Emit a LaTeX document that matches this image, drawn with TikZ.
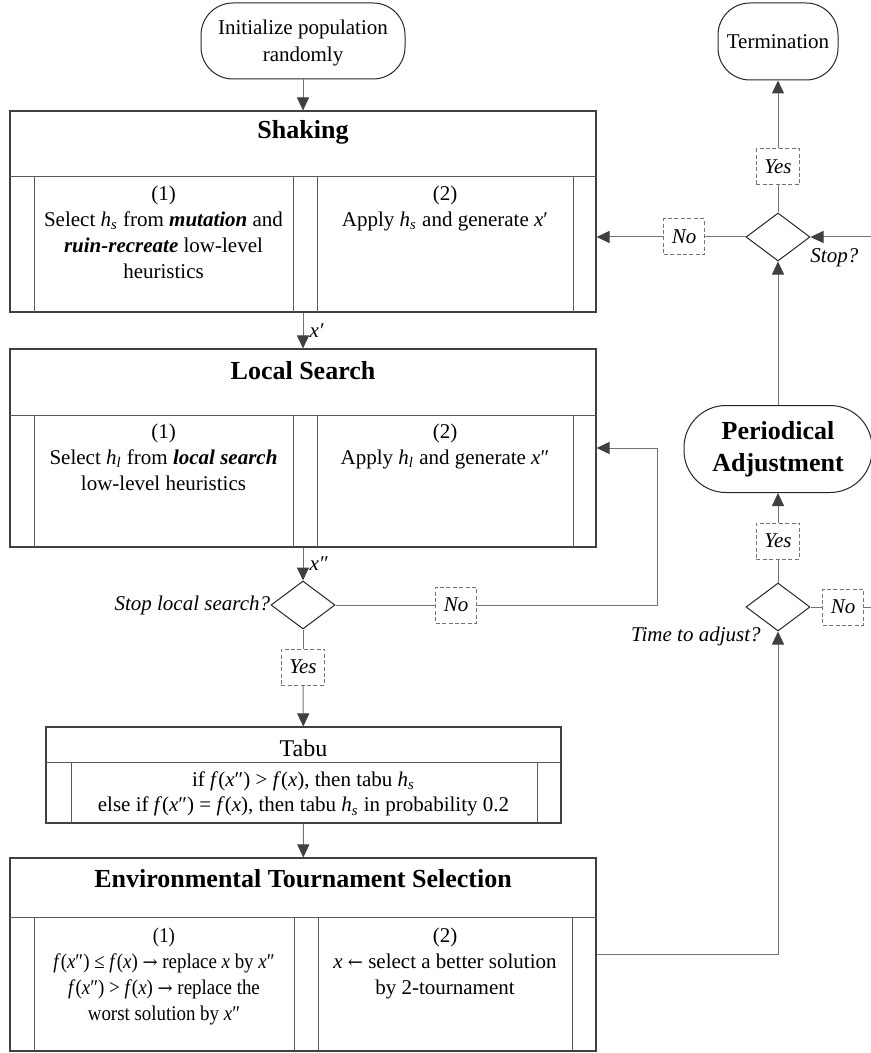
\documentclass[tikz,border=0pt]{standalone}
\usepackage{fontspec}
\setmainfont{Liberation Serif}
\newfontfamily\narrowserif[FakeStretch=0.9]{Liberation Serif}
\newfontfamily\arrowfont{DejaVu Serif}
\usetikzlibrary{arrows.meta,shapes.geometric,positioning}
\newcommand{\bodysize}{\fontsize{10.5}{12.85}\selectfont}
\newcommand{\hsub}[2]{\textit{#1}\textsubscript{\textit{#2}}}
\newcommand{\xp}{\textit{x}′}
\newcommand{\xpp}{\textit{x}″}
\newcommand{\fx}[1]{\textit{f}(#1)}
\newcommand{\rarr}{{\arrowfont\fontsize{9}{10}\selectfont →}}
\newcommand{\larr}{{\arrowfont\fontsize{9}{10}\selectfont ←}}
\tikzset{block/.style={draw=black!75, line width=0.55pt, rectangle, inner sep=0pt}}
\tikzset{cellline/.style={draw=black!65, line width=0.5pt}}
\tikzset{term/.style={draw=black!85, line width=0.5pt, rounded corners=16pt, align=center, inner sep=0pt}}
\tikzset{decision/.style={diamond, draw=black!85, line width=0.5pt, minimum width=32pt, minimum height=24pt, inner sep=0pt}}
\tikzset{answer/.style={draw=black!55, dash pattern=on 2pt off 1.2pt, line width=0.5pt, minimum height=18pt, inner xsep=4pt, font=\bodysize\itshape}}
\tikzset{flow/.style={draw=black!55, line width=0.5pt}}
\tikzset{arr/.style={flow, -{Triangle[length=6.5pt, width=6pt, color=black!75]}}}
\tikzset{lbl/.style={font=\bodysize\itshape, inner sep=0pt}}
\tikzset{title/.style={font=\fontsize{13}{16}\selectfont\bfseries, inner sep=0pt, align=center}}
\tikzset{celltext/.style={anchor=north, align=center, inner sep=0pt}}

\begin{document}
\begin{tikzpicture}[x=0.5pt,y=-0.5pt,font=\bodysize]
  \useasboundingbox (0,0) rectangle (871,1053);

  \node[term, minimum width=102pt, minimum height=38pt, font=\fontsize{10.5}{13.5}\selectfont] (init) at (303,41) {\strut Initialize population\\randomly};

  % shaking
  \node[block, minimum width=293pt, minimum height=100.5pt] (shake) at (303,211.5) {};
  \draw[cellline] (10,177) -- (596,177);
  \foreach \cx in {34,293,317,573} \draw[cellline] (\cx,177) -- (\cx,312);
  \node[title] at (303,132) {Shaking};
  \node[celltext] at (163.5,186) {(1)\\Select \hsub{h}{s} from \textbf{\textit{mutation}} and\\\textbf{\textit{ruin-recreate}} low-level\\heuristics};
  \node[celltext] at (445,186) {(2)\\Apply \hsub{h}{s} and generate \xp};

  % local search
  \node[block, minimum width=293pt, minimum height=99pt] (ls) at (303,448) {};
  \draw[cellline] (10,415) -- (596,415);
  \foreach \cx in {34,293,317,573} \draw[cellline] (\cx,415) -- (\cx,547);
  \node[title] at (303,371) {Local Search};
  \node[celltext] at (163.5,424) {(1)\\Select \hsub{h}{l} from \textbf{\textit{local search}}\\low-level heuristics};
  \node[celltext] at (445,424) {(2)\\Apply \hsub{h}{l} and generate \xpp};

  \node[decision] (d1) at (303,605) {};
  \node[lbl, anchor=east] at (d1.west) {Stop local search?};
  \node[answer] (yes1) at (303,667) {Yes};
  \node[answer] (no1) at (456,605) {No};
  \coordinate (lsback) at (657,448);

  % tabu
  \node[block, minimum width=257.5pt, minimum height=48pt] (tabu) at (303.5,775) {};
  \draw[cellline] (46,762) -- (561,762);
  \foreach \cx in {71,537} \draw[cellline] (\cx,762) -- (\cx,823);
  \node[inner sep=0pt, font=\fontsize{12}{14}\selectfont] at (303.5,748) {Tabu};
  \node[anchor=north, align=center, inner sep=0pt] at (303.5,771) {if \fx{\xpp} > \fx{\textit{x}}, then tabu \hsub{h}{s}\\else if \fx{\xpp} = \fx{\textit{x}}, then tabu \hsub{h}{s} in probability 0.2};

  % environmental tournament selection
  \node[block, minimum width=293pt, minimum height=96.5pt] (ets) at (303,954.5) {};
  \draw[cellline] (10,917) -- (596,917);
  \foreach \cx in {34,294,318,572} \draw[cellline] (\cx,917) -- (\cx,1051);
  \node[title] at (303,879) {Environmental Tournament Selection};
  \node[celltext, font=\bodysize\narrowserif] at (164,928) {(1)\\\fx{\xpp} ≤ \fx{\textit{x}} \rarr{} replace \textit{x} by \xpp\\\fx{\xpp} > \fx{\textit{x}} \rarr{} replace the\\worst solution by \xpp};
  \node[celltext] at (445,928) {(2)\\\textit{x} \larr{} select a better solution\\by 2-tournament};

  % right column
  \node[term, minimum width=60pt, minimum height=38.5pt] (term) at (778,41.5) {Termination};
  \node[answer] (yes3) at (778,167) {Yes};
  \node[decision] (d3) at (778,237) {};
  \node[lbl, anchor=west] at (810,258) {Stop?};
  \node[answer] (no3) at (684,237) {No};
  \coordinate (edge3) at (871,237);

  \node[term, minimum width=94pt, minimum height=43.5pt, rounded corners=21pt, font=\fontsize{13}{16}\selectfont\bfseries] (per) at (778,449) {Periodical\\Adjustment};
  \node[answer] (yes2) at (778,541) {Yes};
  \node[decision] (d2) at (778,607) {};
  \node[lbl, anchor=east] at (761,636) {Time to adjust?};
  \node[answer] (no2) at (843,607) {No};
  \coordinate (edge2) at (871,607);

  % connectors
  \draw[arr] (init) -- (shake);
  \draw[arr] (shake) -- (ls) node[lbl, midway, right=3pt] {\xp};
  \draw[arr] (ls) -- (d1) node[lbl, midway, right=3pt] {\xpp};
  \draw[flow] (d1) -- (yes1);
  \draw[arr] (yes1) -- (tabu);
  \draw[flow] (d1) -- (no1);
  \draw[arr] (no1) -| (lsback) -- (ls.east);
  \draw[arr] (tabu) -- (ets);
  \draw[arr] (ets) -| (d2);
  \draw[flow] (d2) -- (yes2);
  \draw[arr] (yes2) -- (per);
  \draw[flow] (d2) -- (no2) -- (edge2);
  \draw[arr] (per) -- (d3);
  \draw[arr] (edge3) -- (d3);
  \draw[flow] (d3) -- (yes3);
  \draw[arr] (yes3) -- (term);
  \draw[flow] (d3) -- (no3);
  \draw[arr] (no3) -- (no3 -| shake.east);
\end{tikzpicture}
\end{document}
